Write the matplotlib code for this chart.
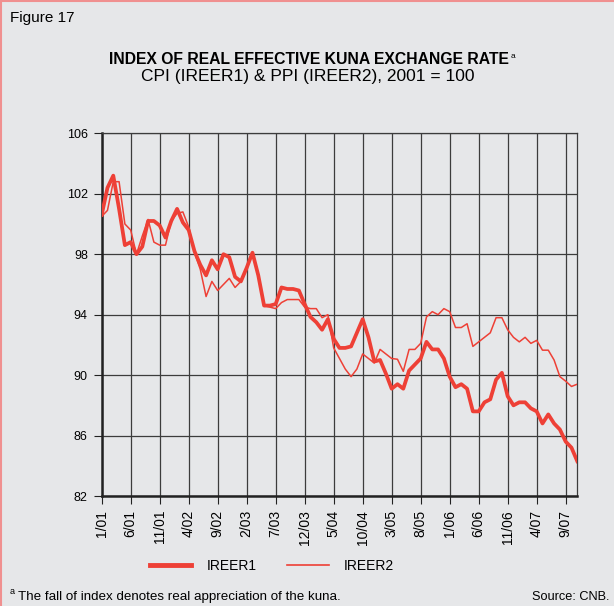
import matplotlib
matplotlib.use("Agg")
import matplotlib.pyplot as plt
from matplotlib.lines import Line2D

plt.rcParams['font.family'] = ['Liberation Sans', 'DejaVu Sans']

# monthly index values, 1/2001 .. 11/2007
ireer1 = [100.6, 102.4, 103.2, 101.0, 98.6, 98.8, 98.0, 98.5, 100.2, 100.2,
          99.9, 99.1, 100.2, 101.0, 100.1, 99.6, 98.2, 97.3, 96.6, 97.6,
          97.0, 98.0, 97.8, 96.5, 96.2, 97.1, 98.1, 96.6, 94.6, 94.6,
          94.7, 95.8, 95.7, 95.7, 95.6, 94.7, 93.85, 93.5, 93.0, 93.7,
          92.4, 91.8, 91.8, 91.9, 92.8, 93.7, 92.5, 90.9, 91.0, 90.1,
          89.1, 89.4, 89.1, 90.3, 90.7, 91.1, 92.2, 91.7, 91.7, 91.1,
          89.9, 89.2, 89.4, 89.1, 87.6, 87.6, 88.2, 88.4, 89.7, 90.15,
          88.6, 88.0, 88.2, 88.2, 87.8, 87.6, 86.8, 87.4, 86.8, 86.4,
          85.6, 85.2, 84.3]
ireer2 = [100.5, 100.9, 102.8, 102.8, 100.0, 99.6, 98.0, 99.2, 100.3, 98.8,
          98.6, 98.6, 100.2, 100.7, 100.8, 99.8, 98.1, 97.0, 95.2, 96.2,
          95.6, 96.0, 96.4, 95.8, 96.2, 97.1, 98.1, 96.7, 94.6, 94.5,
          94.4, 94.8, 95.0, 95.0, 95.0, 94.5, 94.4, 94.4, 93.8, 94.0,
          91.8, 91.1, 90.4, 89.9, 90.4, 91.4, 91.1, 90.8, 91.7, 91.4,
          91.1, 91.05, 90.25, 91.7, 91.7, 92.1, 93.85, 94.2, 94.0, 94.4,
          94.2, 93.15, 93.15, 93.4, 91.9, 92.2, 92.5, 92.8, 93.8, 93.8,
          93.0, 92.5, 92.2, 92.5, 92.1, 92.3, 91.65, 91.65, 91.0, 89.9,
          89.6, 89.25, 89.4]
tick_labels = ['1/01', '6/01', '11/01', '4/02', '9/02', '2/03', '7/03', '12/03',
               '5/04', '10/04', '3/05', '8/05', '1/06', '6/06', '11/06', '4/07', '9/07']
y_ticks = [82, 86, 90, 94, 98, 102, 106]

bg = '#e6e7e9'
red = '#ee4036'
grid_c = '#3c3c3c'

fig = plt.figure(figsize=(6.14, 6.06), dpi=100, facecolor=bg)
ax = fig.add_axes([0.1656, 0.1815, 0.7746, 0.5985], facecolor=bg)

months = list(range(len(ireer1)))
ax.plot(months, ireer2, color=red, lw=1.1, zorder=3)
ax.plot(months, ireer1, color=red, lw=2.7, zorder=4)

ax.set_xlim(0, len(ireer1) - 1)
ax.set_ylim(82, 106)
ax.set_xticks(range(0, 5 * len(tick_labels), 5))
ax.set_xticklabels(tick_labels, rotation=90, fontsize=10)
ax.set_yticks(y_ticks)
ax.set_yticklabels([str(v) for v in y_ticks], fontsize=9)
ax.tick_params(axis='both', direction='out', length=6, width=0.8, color='#222222', pad=4)
ax.grid(True, color=grid_c, lw=0.9)
ax.set_axisbelow(True)
for side in ['left', 'bottom']:
    ax.spines[side].set_linewidth(1.8)
    ax.spines[side].set_color('#222222')
for side in ['top', 'right']:
    ax.spines[side].set_linewidth(0.9)
    ax.spines[side].set_color(grid_c)

# legend
handles = [Line2D([], [], color=red, lw=3.5), Line2D([], [], color=red, lw=1.2)]
fig.legend(handles, ['IREER1', 'IREER2'], loc='center', bbox_to_anchor=(272 / 614, 1 - 566 / 606),
           ncol=2, frameon=False, fontsize=10, handlelength=3.0, handletextpad=1.1, columnspacing=2.2)

# titles and notes
fig.text(10 / 614, 1 - 18 / 606, 'Figure 17', fontsize=11, va='center', ha='left')
t = fig.text(309 / 614, 1 - 60 / 606, 'INDEX OF REAL EFFECTIVE KUNA EXCHANGE RATE',
             fontsize=11.3, fontweight='bold', va='center', ha='center')
ax.annotate('a', xy=(1, 1), xycoords=t, xytext=(1, 0), textcoords='offset points',
            fontsize=6, va='top', ha='left')
fig.text(308 / 614, 1 - 77 / 606, 'CPI (IREER1) & PPI (IREER2), 2001 = 100',
         fontsize=12.5, va='center', ha='center')
fig.text(10 / 614, 1 - 591 / 606, 'a', fontsize=6.5, va='center', ha='left')
fig.text(18 / 614, 1 - 597 / 606, 'The fall of index denotes real appreciation of the kuna.',
         fontsize=9.6, va='center', ha='left')
fig.text(610 / 614, 1 - 597 / 606, 'Source: CNB.', fontsize=9.2, va='center', ha='right')

# pinkish frame on left and top
fig.add_artist(Line2D([0.002, 0.002], [0, 1], color='#f09090', lw=1.5, transform=fig.transFigure))
fig.add_artist(Line2D([0, 1], [0.998, 0.998], color='#f09090', lw=1.5, transform=fig.transFigure))

fig.savefig('out.png', dpi=100, facecolor=bg)
